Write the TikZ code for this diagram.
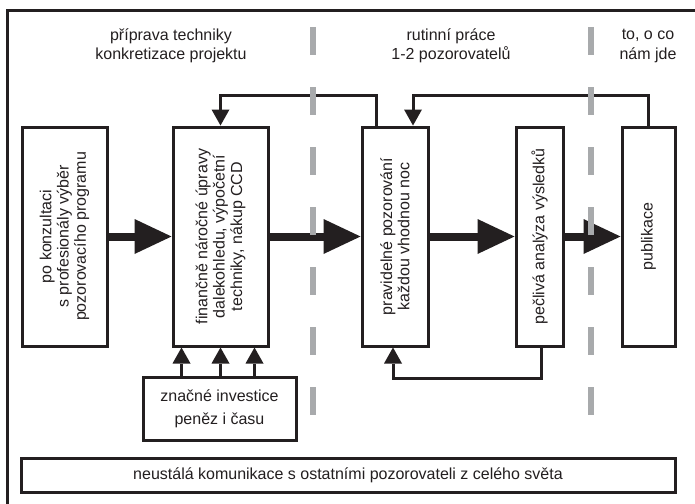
\documentclass[tikz,border=0pt]{standalone}
\usepackage{fontspec}
\setmainfont{Liberation Sans}
\usetikzlibrary{arrows.meta,calc}
\definecolor{divgray}{RGB}{168,170,172}
\definecolor{ink}{RGB}{35,31,32}
\begin{document}
\begin{tikzpicture}[x=0.75pt,y=-0.75pt,
  box/.style={draw=ink, line width=2.25pt, inner sep=0pt, fill=white},
  thickarr/.style={draw=ink, line width=6pt, -{Triangle[length=27.75pt,width=26.25pt,line width=0pt]}},
  thinarr/.style={draw=ink, line width=2.25pt, -{Triangle[length=12pt,width=13.5pt,line width=0pt]}},
  rot/.style={rotate=90, align=center, text=ink, font=\fontsize{12}{13}\selectfont, inner sep=0pt},
  hdr/.style={align=center, text=ink, font=\fontsize{12}{14.5}\selectfont, inner sep=0pt},
  divider/.style={line width=4.5pt, draw=divgray, dash pattern=on 21pt off 24pt},
]
\useasboundingbox (0,0) rectangle (695,503);
% outer frame (only top and left edges visible)
\draw[draw=ink, line width=2.25pt] (710,11) -- (7,11) -- (7,520);

% headers
\node[hdr] (h1) at (171,46) {příprava techniky\\konkretizace projektu};
\node[hdr] (h2) at (451,46) {rutinní práce\\1-2 pozorovatelů};
\node[hdr] (h3) at (648,46) {to, o co\\nám jde};

% boxes
\node[box, minimum width=63.75pt, minimum height=164.25pt] (b1) at (64.5,236.5) {};
\node[box, minimum width=71.25pt, minimum height=164.25pt] (b2) at (220.5,236.5) {};
\node[box, minimum width=49.5pt, minimum height=164.25pt] (b3) at (395,236.5) {};
\node[box, minimum width=35.25pt, minimum height=164.25pt] (b4) at (539.5,236.5) {};
\node[box, minimum width=39.75pt, minimum height=164.25pt] (b5) at (648.5,236.5) {};
\node[box, minimum width=114.75pt, minimum height=47.25pt] (b6) at (219.5,408.5) {};
\node[box, minimum width=490.5pt, minimum height=25.5pt] (b7) at (348,475) {};

% texts
\node[rot] (t1) at (b1) {po konzultaci\\s profesionály výběr\\pozorovacího programu};
\node[rot] (t2) at (b2) {finančně náročné úpravy\\dalekohledu, výpočetní\\techniky, nákup CCD};
\node[rot] (t3) at (b3) {pravidelné pozorování\\každou vhodnou noc};
\node[rot] (t4) at (b4) {pečlivá analýza výsledků};
\node[rot] (t5) at (b5) {publikace};
\node[hdr, font=\fontsize{12}{17}\selectfont] (t6) at (b6) {značné investice\\peněz i času};
\node[hdr] (t7) at (b7) {neustálá komunikace s ostatními pozorovateli z celého světa};

% main flow
\draw[thickarr] (b1.east) -- (b2.west);
\draw[thickarr] (b2.east) -- (b3.west);
\draw[thickarr] (b3.east) -- (b4.west);
\draw[thickarr] (b4.east) -- (b5.west);

% feedback loops
\draw[thinarr] ($(b3.north)+(-19,0)$) -- ++(0,-30) -| (b2.north);
\draw[thinarr] (b5.north) -- ++(0,-30) -| ($(b3.north)+(18,0)$);
\draw[thinarr] ($(b4.south)+(1.5,0)$) -- ++(0,31) -| ($(b3.south)+(-2,0)$);

% investments
\foreach \dx in {-39,0,34}
  \draw[thinarr] ($(b6.north)+(\dx+1,0)$) -- ($(b2.south)+(\dx,0)$);

% dividers
\draw[divider] (313,27) -- (313,418);
\draw[divider] (591,27) -- (591,418);
\end{tikzpicture}
\end{document}
